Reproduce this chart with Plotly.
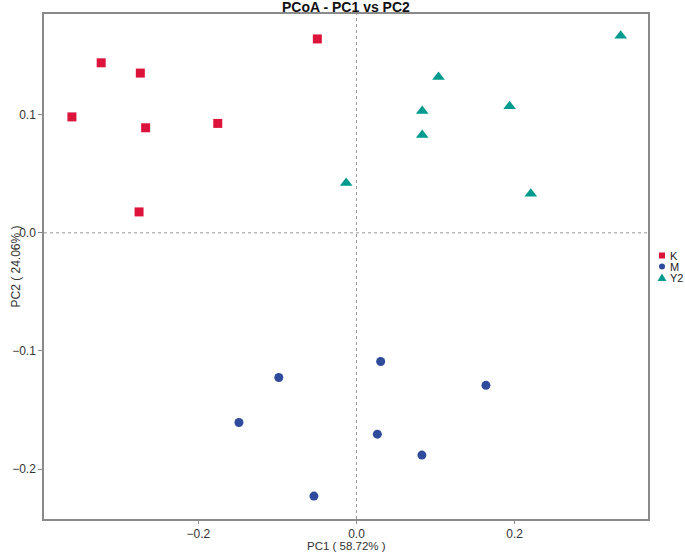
import plotly.graph_objects as go

# PCoA sample scores
groups = ["K", "M", "Y2"]

k_pc1 = [-0.0495, -0.3228, -0.2733, -0.3598, -0.2666, -0.1754, -0.2749]
k_pc2 = [0.1641, 0.1439, 0.1352, 0.0981, 0.0889, 0.0926, 0.0177]

m_pc1 = [0.0306, -0.0982, -0.1486, 0.0264, 0.0827, -0.0538, 0.1637]
m_pc2 = [-0.1089, -0.1224, -0.1605, -0.1704, -0.1881, -0.2228, -0.1291]

y2_pc1 = [0.3341, 0.1037, 0.0831, 0.1936, 0.0831, -0.0130, 0.2204]
y2_pc2 = [0.1667, 0.1318, 0.1032, 0.1072, 0.0827, 0.0421, 0.0331]

x_ticks = [-0.2, 0.0, 0.2]
y_ticks = [-0.2, -0.1, 0.0, 0.1]

pc1_label = "PC1 ( 58.72% )"
pc2_label = "PC2 ( 24.06% )"
title = "PCoA - PC1 vs PC2"

colors = {"K": "#dc143c", "M": "#2f4b9c", "Y2": "#009a8e"}
symbols = {"K": "square", "M": "circle", "Y2": "triangle-up"}
sizes = {"K": 9, "M": 9, "Y2": 11}

FONT = "Liberation Sans, Arial, sans-serif"
AXIS = "#8a8a8a"

fig = go.Figure()
for g, xs, ys in [("K", k_pc1, k_pc2), ("M", m_pc1, m_pc2), ("Y2", y2_pc1, y2_pc2)]:
    fig.add_trace(go.Scatter(
        x=xs, y=ys, mode="markers", name=g, showlegend=False,
        marker=dict(symbol=symbols[g], color=colors[g], size=sizes[g], line=dict(width=0)),
    ))

# dotted reference lines through the origin
fig.add_shape(type="line", xref="x", yref="paper", x0=0, x1=0, y0=0, y1=1,
              line=dict(color="#999999", width=1, dash="dot"), layer="below")
fig.add_shape(type="line", xref="paper", yref="y", x0=0, x1=1, y0=0, y1=0,
              line=dict(color="#999999", width=1, dash="dot"), layer="below")

# compact legend to the right of the plot
legend_dy = [11, 0, -11]
for g, dy in zip(groups, legend_dy):
    common = dict(xref="paper", yref="paper", xsizemode="pixel", ysizemode="pixel",
                  xanchor=1, yanchor=0.5, fillcolor=colors[g], line=dict(width=0))
    if symbols[g] == "square":
        fig.add_shape(type="rect", x0=11, x1=17, y0=dy - 3, y1=dy + 3, **common)
    elif symbols[g] == "circle":
        fig.add_shape(type="circle", x0=11, x1=17, y0=dy - 3, y1=dy + 3, **common)
    else:
        fig.add_shape(type="path", path=f"M9.5,{dy - 3.5} L18.5,{dy - 3.5} L14,{dy + 4} Z", **common)
    fig.add_annotation(x=1, y=0.5, xref="paper", yref="paper", xshift=20, yshift=dy,
                       text=g, showarrow=False, xanchor="left", yanchor="middle",
                       font=dict(family=FONT, size=11, color="#222222"))

fig.add_annotation(x=0.5, y=1, xref="paper", yref="paper", yshift=-3, text=f"<b>{title}</b>",
                   showarrow=False, xanchor="center", yanchor="bottom",
                   font=dict(family=FONT, size=14, color="#111111"))
fig.add_annotation(x=0.5, y=0, xref="paper", yref="paper", yshift=-27, text=pc1_label,
                   showarrow=False, xanchor="center", yanchor="middle", borderpad=0,
                   font=dict(family=FONT, size=11.5, color="#333333"))
fig.add_annotation(x=0, y=0.5, xref="paper", yref="paper", xshift=-29, text=pc2_label,
                   textangle=-90, showarrow=False, xanchor="center", yanchor="middle",
                   font=dict(family=FONT, size=12, color="#333333"))

axis_common = dict(showgrid=False, zeroline=False, showline=True, linecolor=AXIS, linewidth=1.5,
                   mirror=True, ticks="outside", tickcolor=AXIS, tickwidth=1,
                   tickformat=".1f", tickfont=dict(family=FONT, size=12, color="#333333"))
fig.update_xaxes(range=[-0.3951, 0.3686], tickvals=x_ticks, ticklen=3, **axis_common)
fig.update_yaxes(range=[-0.2422, 0.1852], tickvals=y_ticks, ticklen=4, **axis_common)

fig.update_layout(
    width=685, height=553,
    margin=dict(l=41, r=37, t=13, b=32),
    paper_bgcolor="white", plot_bgcolor="white",
    showlegend=False,
    font=dict(family=FONT),
)

# drop the browser's default body margin so the figure sits at the page corner
fig.write_html("out.html", config={"displayModeBar": False},
               post_script="document.body.style.margin='0';")
